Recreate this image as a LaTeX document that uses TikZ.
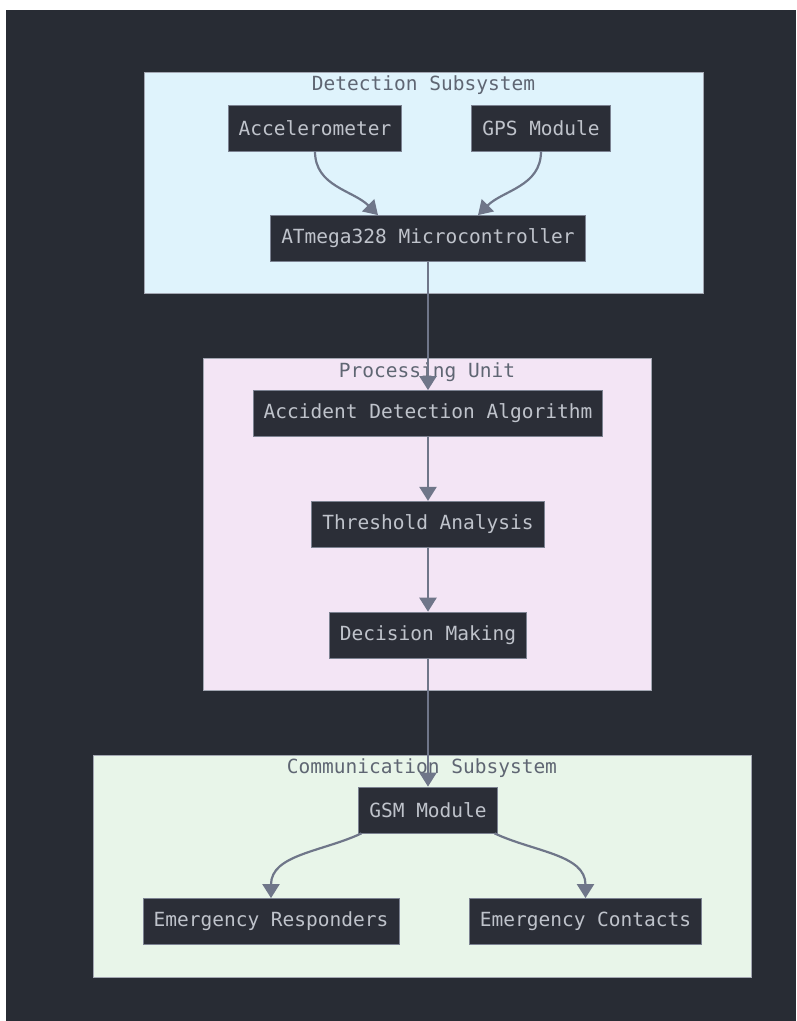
\documentclass[tikz,border=0pt]{standalone}
\usepackage{fontspec}
\setmonofont{DejaVu Sans Mono}
\usetikzlibrary{positioning,arrows.meta}

\definecolor{darkbg}{HTML}{282C34}
\definecolor{boxfill}{HTML}{2B2E37}
\definecolor{boxline}{HTML}{7C8291}
\definecolor{boxtext}{HTML}{BFC3CB}
\definecolor{titletext}{HTML}{5F6673}
\definecolor{linkcol}{HTML}{6F7689}
\definecolor{detfill}{HTML}{DFF3FC}
\definecolor{procfill}{HTML}{F3E5F5}
\definecolor{comfill}{HTML}{E8F5E9}

\tikzset{
  block/.style={draw=boxline, line width=0.8pt, fill=boxfill, text=boxtext,
    font=\ttfamily\fontsize{19.5}{23}\selectfont, inner xsep=10.5pt, inner ysep=0pt,
    minimum height=46pt},
  cluster/.style={draw=boxline!70!white, line width=1pt},
  ctitle/.style={text=titletext, font=\ttfamily\fontsize{19.5}{23}\selectfont},
  link/.style={draw=linkcol, line width=2.2pt, -{Triangle[width=17pt,length=14pt]}},
}

\begin{document}
\begin{tikzpicture}[x=1pt, y=-1pt, node distance=64pt]
    \useasboundingbox (0,0) rectangle (796,1021);
    \fill[white] (0,0) rectangle (796,1021);
    \fill[darkbg] (6,10) rectangle (796,1021);

    % subsystems
    \draw[cluster, fill=detfill] (144,72) rectangle (703,293);
    \draw[cluster, fill=procfill] (203,358) rectangle (651,690);
    \draw[cluster, fill=comfill] (93,755) rectangle (751,977);
    \node[ctitle] (dettitle) at (423.5,85) {Detection Subsystem};
    \node[ctitle] (proctitle) at (427,372) {Processing Unit};
    \node[ctitle] (comtitle) at (422,768) {Communication Subsystem};

    % detection
    \node[block] (acc) at (315,128) {Accelerometer};
    \node[block] (gps) at (541,128) {GPS Module};
    \node[block] (mcu) at (428,238.5) {ATmega328 Microcontroller};

    % processing
    \node[block] (algo) at (428,413.5) {Accident Detection Algorithm};
    \node[block] (thresh) [below=of algo] {Threshold Analysis};
    \node[block] (decide) [below=of thresh] {Decision Making};

    % communication
    \node[block] (gsm) at (428,810) {GSM Module};
    \node[block] (resp) at (271,921.5) {Emergency Responders};
    \node[block] (cont) at (585.5,921.5) {Emergency Contacts};

    % curved links into the controller
    \draw[link] (acc.south) to[out=-90, in=135] ([xshift=-50pt]mcu.north);
    \draw[link] (gps.south) to[out=-90, in=45] ([xshift=50pt]mcu.north);

    % straight chain
    \draw[link] (mcu) -- (algo);
    \draw[link] (algo) -- (thresh);
    \draw[link] (thresh) -- (decide);
    \draw[link] (decide) -- (gsm);

    % alerts
    \draw[link] ([xshift=3pt]gsm.south west) to[out=-155, in=90] (resp.north);
    \draw[link] ([xshift=-3pt]gsm.south east) to[out=-25, in=90] (cont.north);
\end{tikzpicture}
\end{document}
